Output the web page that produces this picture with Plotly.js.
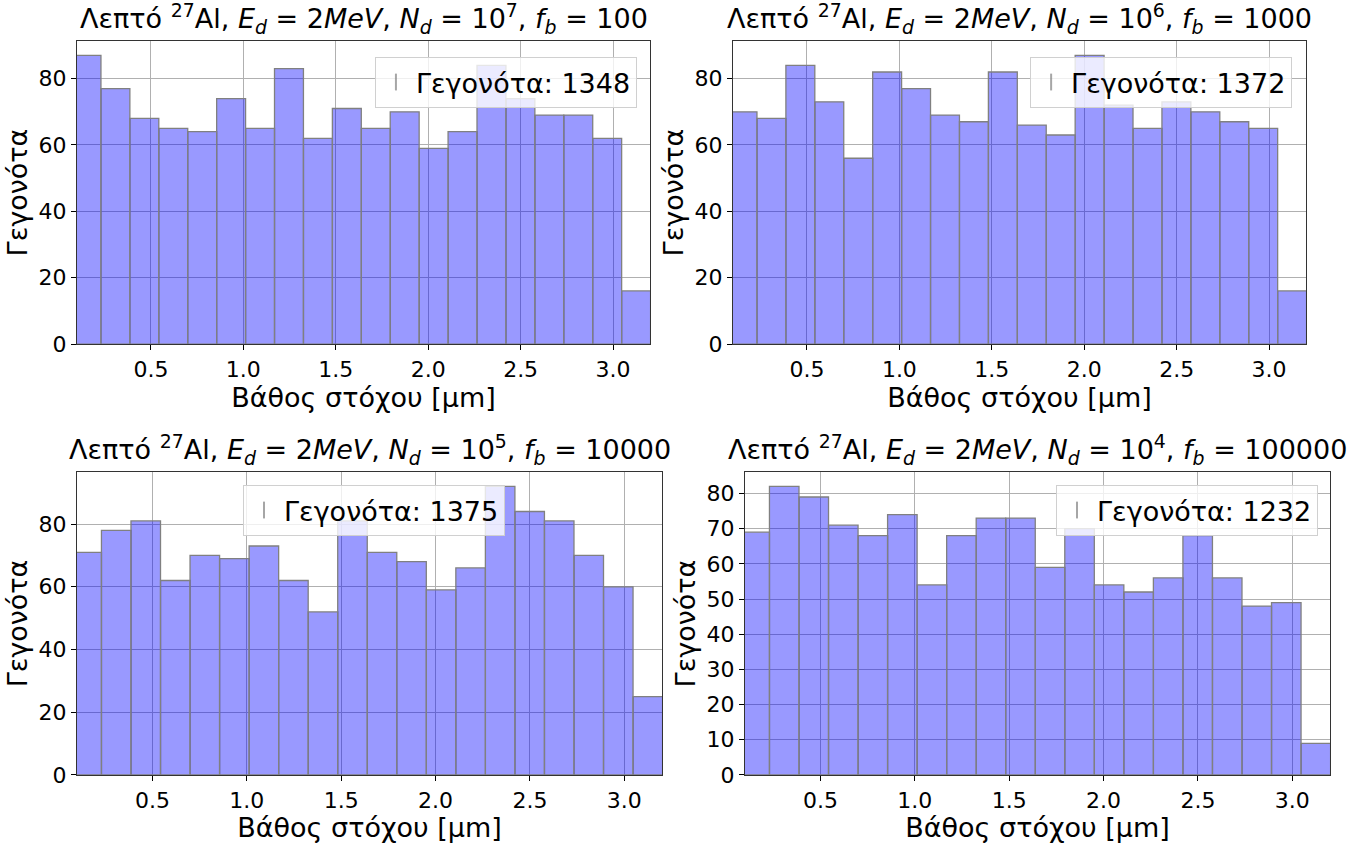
<!DOCTYPE html>
<html>
<head>
<meta charset="utf-8">
<script src="https://cdn.plot.ly/plotly-3.0.1.min.js"></script>
<style>
  html, body { margin: 0; padding: 0; background: #fff; }
  #chart { width: 1363px; height: 843px; }
</style>
</head>
<body>
<div id="chart"></div>
<script>
// Histogram binning of target depth (µm): 20 equal bins
const depthBinStart = 0.073;
const depthBinWidth = 0.1565;

// Event counts per bin for each run
const countsNd7 = [87, 77, 68, 65, 64, 74, 65, 83, 62, 71, 65, 70, 59, 64, 84, 74, 69, 69, 62, 16];
const countsNd6 = [70, 68, 84, 73, 56, 82, 77, 69, 67, 82, 66, 63, 87, 72, 65, 73, 70, 67, 65, 16];
const countsNd5 = [71, 78, 81, 62, 70, 69, 73, 62, 52, 81, 71, 68, 59, 66, 92, 84, 81, 70, 60, 25];
const countsNd4 = [69, 82, 79, 71, 68, 74, 54, 68, 73, 73, 59, 70, 54, 52, 56, 68, 56, 48, 49, 9];

// Run parameters
const ndExponents = [7, 6, 5, 4];
const fbValues = [100, 1000, 10000, 100000];
const allCounts = [countsNd7, countsNd6, countsNd5, countsNd4];

const xTickVals = [0.5, 1.0, 1.5, 2.0, 2.5, 3.0];
const xTickText = ['0.5', '1.0', '1.5', '2.0', '2.5', '3.0'];

const FONT = 'DejaVu Sans, Verdana, sans-serif';
const TICK_SIZE = 22;
const LABEL_SIZE = 27;

// panel geometry (paper fractions)
const panels = [
  { x: [0.0565, 0.4769], y: [0.5919, 0.9514], leg: { x: 0.4673, y: 0.9324 }, yt: [0, 20, 40, 60, 80] },
  { x: [0.5378, 0.9582], y: [0.5919, 0.9514], leg: { x: 0.9480, y: 0.9324 }, yt: [0, 20, 40, 60, 80] },
  { x: [0.0565, 0.4857], y: [0.0807, 0.4401], leg: { x: 0.3705, y: 0.4247 }, yt: [0, 20, 40, 60, 80] },
  { x: [0.5466, 0.9758], y: [0.0807, 0.4401], leg: { x: 0.9670, y: 0.4247 }, yt: [0, 10, 20, 30, 40, 50, 60, 70, 80] }
];

const binCenters = allCounts[0].map((_, i) => depthBinStart + depthBinWidth * (i + 0.5));

const traces = [];
const layout = {
  width: 1363, height: 843,
  margin: { l: 0, r: 0, t: 0, b: 0 },
  paper_bgcolor: '#ffffff',
  plot_bgcolor: '#ffffff',
  font: { family: FONT, color: '#000' },
  bargap: 0,
  showlegend: true,
  annotations: []
};

allCounts.forEach((counts, k) => {
  const n = k + 1;
  const sfx = n === 1 ? '' : String(n);
  const total = counts.reduce((a, b) => a + b, 0);
  const legName = n === 1 ? 'legend' : 'legend' + n;

  traces.push({
    type: 'bar',
    x: binCenters,
    y: counts,
    width: depthBinWidth,
    xaxis: 'x' + sfx, yaxis: 'y' + sfx,
    marker: { color: 'rgba(0,0,255,0.4)', line: { color: 'rgb(128,128,128)', width: 1.3 } },
    showlegend: false,
    hoverinfo: 'x+y'
  });
  // legend entry carrying the event total
  traces.push({
    type: 'scatter',
    x: [null], y: [null],
    xaxis: 'x' + sfx, yaxis: 'y' + sfx,
    mode: 'markers',
    marker: { symbol: 'line-ns', size: 20, color: 'rgba(128,128,128,0.6)', line: { width: 1.2, color: 'rgba(128,128,128,0.7)' } },
    name: 'Γεγονότα: ' + total,
    legend: legName,
    showlegend: true
  });

  const p = panels[k];
  const ymax = Math.max(...counts) * 1.05;

  layout['xaxis' + sfx] = {
    domain: p.x,
    anchor: 'y' + sfx,
    range: [0.1, 3.2],
    tickvals: xTickVals, ticktext: xTickText,
    ticks: 'outside', ticklen: 5, tickwidth: 1, tickcolor: '#000',
    tickfont: { size: TICK_SIZE, family: FONT, color: '#000' },
    showgrid: true, gridcolor: '#b0b0b0', gridwidth: 1,
    showline: true, linecolor: '#333', linewidth: 1.2, mirror: true,
    zeroline: false,
    title: { text: 'Βάθος στόχου [μm]', font: { size: LABEL_SIZE, family: FONT, color: '#000' }, standoff: 3 }
  };
  layout['yaxis' + sfx] = {
    domain: p.y,
    anchor: 'x' + sfx,
    range: [0, ymax],
    tickvals: p.yt,
    ticks: 'outside', ticklen: 5, tickwidth: 1, tickcolor: '#000',
    tickfont: { size: TICK_SIZE, family: FONT, color: '#000' },
    showgrid: true, gridcolor: '#b0b0b0', gridwidth: 1,
    showline: true, linecolor: '#333', linewidth: 1.2, mirror: true,
    zeroline: false,
    title: { text: 'Γεγονότα', font: { size: LABEL_SIZE, family: FONT, color: '#000' }, standoff: 3 }
  };
  layout[legName] = {
    x: p.leg.x, y: p.leg.y, xanchor: 'right', yanchor: 'top',
    xref: 'paper', yref: 'paper',
    bgcolor: 'rgba(255,255,255,0.8)',
    bordercolor: '#d0d0d0', borderwidth: 1,
    font: { size: LABEL_SIZE, family: FONT, color: '#000' },
    itemsizing: 'constant'
  };

  layout.annotations.push({
    xref: 'paper', yref: 'paper',
    x: (p.x[0] + p.x[1]) / 2, y: p.y[1],
    xanchor: 'center', yanchor: 'bottom', yshift: 1,
    showarrow: false,
    font: { size: LABEL_SIZE, family: FONT, color: '#000' },
    text: 'Λεπτό <sup>27</sup>Al, <i>E<sub>d</sub></i> = 2<i>MeV</i>, <i>N<sub>d</sub></i> = 10<sup>' +
          ndExponents[k] + '</sup>, <i>f<sub>b</sub></i> = ' + fbValues[k]
  });
});

Plotly.newPlot('chart', traces, layout, { displayModeBar: false, staticPlot: true });
</script>
</body>
</html>
